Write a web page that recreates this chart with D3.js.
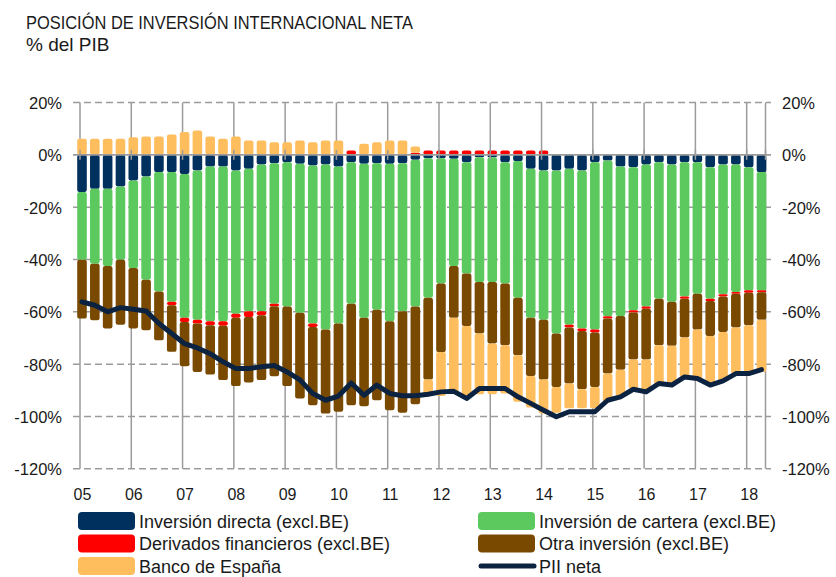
<!DOCTYPE html>
<html>
<head>
<meta charset="utf-8">
<script src="https://cdn.jsdelivr.net/npm/d3@7"></script>
<style>
  html, body { margin: 0; padding: 0; background: #ffffff; }
  svg { display: block; font-family: "Liberation Sans", Arial, Helvetica, sans-serif; }
</style>
</head>
<body>
<svg id="chart" width="836" height="577"></svg>
<script>
// ---------- DATA (quarterly, 2005Q1 - 2018Q2), % of GDP ----------
const yearLabels = ["05","06","07","08","09","10","11","12","13","14","15","16","17","18"];
const yTicks = [20, 0, -20, -40, -60, -80, -100, -120];

const directa = [-14.2,-13,-13,-12.1,-9.8,-8.3,-6.6,-6.6,-7.3,-6,-4.5,-4.5,-6,-5.3,-3.7,-3.2,
  -2.8,-3.4,-4.1,-3.7,-4.5,-2.8,-3.4,-3.2,-3.4,-3.2,-1.9,-1.3,-1.3,-1.5,-2.8,-0.9,-0.9,-2.8,
  -2.4,-5.3,-6,-6,-5.3,-6,-2.8,-2.2,-4.5,-4.7,-3.7,-2.8,-3.7,-2.8,-2.8,-4.7,-3.7,-3.7,-4.7,-6.6];
const cartera = [-25.9,-28.6,-29.5,-28,-33.5,-39.4,-45.6,-49.6,-55,-57,-59.1,-59.1,-54.7,-54.5,-56.1,-53.7,
  -55.2,-57,-60.4,-63.1,-60,-54.1,-58.9,-56,-60.2,-56.6,-56.1,-53.3,-47.9,-41,-42.6,-47.7,-47.7,-46.4,
  -52.2,-57,-57,-62.3,-59.6,-60.4,-64,-59.5,-57.1,-54.7,-54.3,-52.2,-52.5,-51.3,-50.3,-50.3,-49.6,-48.7,-47.1,-45.2];
const derivados = [0,0,0,0,0,0,0,-1.3,-1.6,-1.5,-1.5,-1.7,-1.6,-2.2,-1.5,-1.0,
  0,0,-1.3,0,0,1.7,0,0,0,0,0.8,1.7,1.7,1.7,1.7,1.7,1.7,1.7,
  1.7,1.7,1.7,0,-1.1,-0.9,-1.1,-0.9,0,-0.9,-0.8,0,0,-0.9,0,-0.9,-0.8,-0.7,-0.9,-0.7];
const otra = [-22.5,-21.6,-23.9,-24.8,-23.1,-19.3,-18.7,-17.8,-16.9,-18.5,-18.9,-20.8,-26.1,-25,-24.8,-26.7,
  -30.4,-32.7,-29.9,-32.1,-33.7,-38.8,-33.8,-34.6,-34,-38.8,-37.3,-31.3,-26.2,-19.8,-20,-19.7,-23.5,-23.6,
  -22,-22.2,-22.9,-20.4,-21.4,-22.3,-20.8,-21,-20.5,-17.9,-19.4,-17.8,-16.8,-14.8,-13.7,-13.3,-13.6,-12.9,-12.4,-10.5];
const bancoEspana = [6.1,6.1,6.1,6.1,6.7,7.0,7.0,7.8,8.7,9.3,7.0,6.1,7.0,5.5,5.5,4.8,
  4.8,5.5,4.8,5.5,5.5,0,4.2,4.8,5.5,5.5,2.4,-6.3,-16.8,-28.7,-27.7,-23.2,-19.4,-18.4,
  -17.8,-12.1,-13,-9.9,-9.5,-7.3,-8.2,-10.8,-10.1,-11.1,-11.8,-15.1,-14.9,-15.3,-18.7,-18.8,-19.1,-17.6,-17.9,-20];
const piiNeta = [-56.2,-57.5,-60,-58.4,-59,-59.7,-64.5,-68.3,-72.2,-73.8,-76,-79.1,-81.7,-81.7,-81,-80.5,
  -83,-86,-91.2,-93.8,-92.2,-87.2,-91.9,-88,-91.2,-92.1,-92.1,-91.5,-90.6,-90.4,-93.1,-89.3,-89.3,-89.3,
  -92.5,-95,-97.6,-100.1,-98.2,-98.2,-98.2,-93.8,-92.5,-89.6,-90.6,-87.4,-88,-84.9,-85.5,-88,-86.4,-83.6,-83.6,-82.1];

const seriesKeys = ["directa","cartera","derivados","otra","bde"];
const seriesNames = {
  directa: "Inversión directa (excl.BE)",
  cartera: "Inversión de cartera (excl.BE)",
  derivados: "Derivados financieros (excl.BE)",
  otra: "Otra inversión (excl.BE)",
  bde: "Banco de España"
};
const colors = {
  directa: "#00305e",
  cartera: "#5cc95e",
  derivados: "#ff0000",
  otra: "#7a4900",
  bde: "#ffbe5e",
  line: "#0b2341"
};

// ---------- build table ----------
const table = directa.map((d, i) => ({
  i, directa: d, cartera: cartera[i], derivados: derivados[i], otra: otra[i], bde: bancoEspana[i], pii: piiNeta[i]
}));

const svg = d3.select("#chart");

// ---------- scales ----------
const n = table.length;
const x = d3.scaleLinear().domain([0, n - 1]).range([82, 761.5]);
const y = d3.scaleLinear().domain([-120, 20]).range([468.8, 102.5]);
const barW = 9.6;
const yearX = k => x(4 * k) - 2;   // year boundary lines
const gridColor = "#9b9b9b";
const plotLeft = 73, plotRight = 771, rightEdge = 765.5;

// ---------- grid (behind) ----------
const g = svg.append("g");
g.selectAll("line.h").data(yTicks.filter(t => t !== 0)).join("line")
  .attr("x1", plotLeft).attr("x2", plotRight)
  .attr("y1", d => y(d)).attr("y2", d => y(d))
  .attr("stroke", gridColor).attr("stroke-width", 1.5).attr("stroke-dasharray", "7,4");

const vLines = d3.range(yearLabels.length).map(yearX).concat([rightEdge]);
g.selectAll("line.v").data(vLines).join("line")
  .attr("x1", d => d).attr("x2", d => d)
  .attr("y1", y(20)).attr("y2", y(-120))
  .attr("stroke", gridColor).attr("stroke-width", 1.5);

// ---------- stacked bars ----------
const stack = d3.stack().keys(seriesKeys).offset(d3.stackOffsetDiverging);
const stacked = stack(table);

svg.append("g").selectAll("g").data(stacked).join("g")
  .attr("fill", s => colors[s.key])
  .selectAll("rect").data(s => s.filter(d => d[0] !== d[1])).join("rect")
  .attr("x", d => x(d.data.i) - barW / 2)
  .attr("width", barW)
  .attr("y", d => y(Math.max(d[0], d[1])))
  .attr("height", d => Math.abs(y(d[0]) - y(d[1])))
  .attr("rx", 2.2).attr("ry", 2.2);

// ---------- zero axis (on top) ----------
svg.append("line")
  .attr("x1", plotLeft).attr("x2", plotRight)
  .attr("y1", y(0)).attr("y2", y(0))
  .attr("stroke", gridColor).attr("stroke-width", 1.6);
svg.append("g").selectAll("line").data(vLines).join("line")
  .attr("x1", d => d).attr("x2", d => d)
  .attr("y1", y(0) - 5).attr("y2", y(0) + 5)
  .attr("stroke", gridColor).attr("stroke-width", 1.5);

// ---------- PII neta line ----------
const line = d3.line().x(d => x(d.i)).y(d => y(d.pii));
svg.append("path").datum(table)
  .attr("d", line)
  .attr("fill", "none")
  .attr("stroke", colors.line)
  .attr("stroke-width", 5)
  .attr("stroke-linejoin", "round")
  .attr("stroke-linecap", "round");

// ---------- axes labels ----------
const fmt = d => d + "%";
const yAxisL = d3.axisLeft(y).tickValues(yTicks).tickFormat(fmt).tickSize(0).tickPadding(0);
const yAxisR = d3.axisRight(y).tickValues(yTicks).tickFormat(fmt).tickSize(0).tickPadding(0);
const aL = svg.append("g").attr("transform", "translate(62,0)").call(yAxisL);
const aR = svg.append("g").attr("transform", "translate(782,0)").call(yAxisR);
[aL, aR].forEach(a => {
  a.select(".domain").remove();
  a.selectAll("text").attr("font-size", 16.5).attr("fill", "#1a1a1a")
    .attr("font-family", "'Liberation Sans', Arial, sans-serif").attr("dy", "0.36em");
});

svg.append("g").selectAll("text").data(yearLabels).join("text")
  .attr("x", (d, k) => yearX(k) + 2.5)
  .attr("y", 500)
  .attr("text-anchor", "middle")
  .attr("font-size", 16)
  .attr("fill", "#1a1a1a")
  .text(d => d);

// ---------- title ----------
svg.append("text").attr("x", 26).attr("y", 29)
  .attr("font-size", 19).attr("fill", "#1a1a1a")
  .attr("textLength", 387).attr("lengthAdjust", "spacingAndGlyphs")
  .text("POSICIÓN DE INVERSIÓN INTERNACIONAL NETA");
svg.append("text").attr("x", 26).attr("y", 51)
  .attr("font-size", 19).attr("fill", "#1a1a1a")
  .text("% del PIB");

// ---------- legend ----------
const legendItems = [
  { key: "directa", col: 0, row: 0, type: "rect" },
  { key: "cartera", col: 1, row: 0, type: "rect" },
  { key: "derivados", col: 0, row: 1, type: "rect" },
  { key: "otra", col: 1, row: 1, type: "rect" },
  { key: "bde", col: 0, row: 2, type: "rect" },
  { key: "pii", col: 1, row: 2, type: "line" }
];
const legendNames = Object.assign({}, seriesNames, { pii: "PII neta" });
const colX = [78, 478], rowY = [521, 543.5, 566];
const lg = svg.append("g").selectAll("g").data(legendItems).join("g")
  .attr("transform", d => `translate(${colX[d.col]},${rowY[d.row]})`);
lg.filter(d => d.type === "rect").append("rect")
  .attr("x", 0).attr("y", -9).attr("width", 57).attr("height", 18)
  .attr("rx", 4).attr("fill", d => colors[d.key]);
lg.filter(d => d.type === "line").append("line")
  .attr("x1", 3).attr("x2", 56).attr("y1", 0).attr("y2", 0)
  .attr("stroke", colors.line).attr("stroke-width", 5).attr("stroke-linecap", "round");
lg.append("text").attr("x", 61).attr("y", 6.5)
  .attr("font-size", 18).attr("fill", "#1a1a1a")
  .text(d => legendNames[d.key]);
</script>
</body>
</html>
